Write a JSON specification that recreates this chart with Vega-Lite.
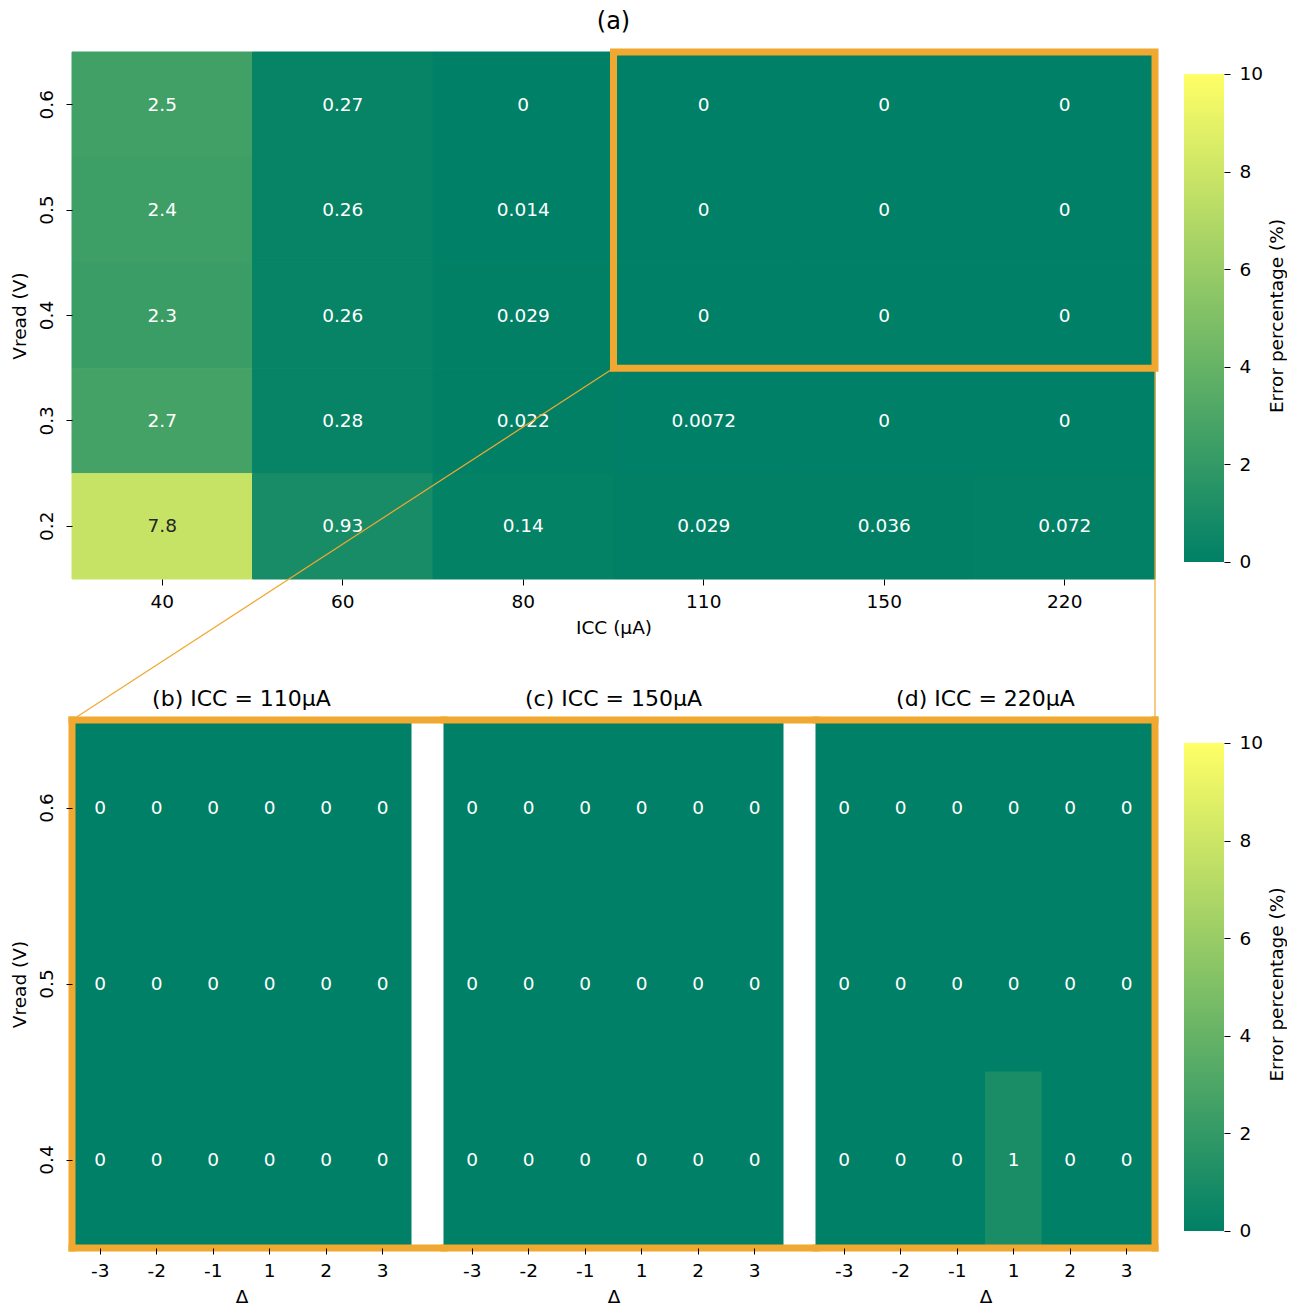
{
  "$schema": "https://vega.github.io/schema/vega-lite/v6.json",
  "padding": {"left": 10, "top": 9, "right": 0, "bottom": 0},
  "datasets": {
    "overview": [
      {"vread": "0.6", "icc": "40", "err": 2.5}, {"vread": "0.6", "icc": "60", "err": 0.27}, {"vread": "0.6", "icc": "80", "err": 0}, {"vread": "0.6", "icc": "110", "err": 0}, {"vread": "0.6", "icc": "150", "err": 0}, {"vread": "0.6", "icc": "220", "err": 0},
      {"vread": "0.5", "icc": "40", "err": 2.4}, {"vread": "0.5", "icc": "60", "err": 0.26}, {"vread": "0.5", "icc": "80", "err": 0.014}, {"vread": "0.5", "icc": "110", "err": 0}, {"vread": "0.5", "icc": "150", "err": 0}, {"vread": "0.5", "icc": "220", "err": 0},
      {"vread": "0.4", "icc": "40", "err": 2.3}, {"vread": "0.4", "icc": "60", "err": 0.26}, {"vread": "0.4", "icc": "80", "err": 0.029}, {"vread": "0.4", "icc": "110", "err": 0}, {"vread": "0.4", "icc": "150", "err": 0}, {"vread": "0.4", "icc": "220", "err": 0},
      {"vread": "0.3", "icc": "40", "err": 2.7}, {"vread": "0.3", "icc": "60", "err": 0.28}, {"vread": "0.3", "icc": "80", "err": 0.022}, {"vread": "0.3", "icc": "110", "err": 0.0072}, {"vread": "0.3", "icc": "150", "err": 0}, {"vread": "0.3", "icc": "220", "err": 0},
      {"vread": "0.2", "icc": "40", "err": 7.8}, {"vread": "0.2", "icc": "60", "err": 0.93}, {"vread": "0.2", "icc": "80", "err": 0.14}, {"vread": "0.2", "icc": "110", "err": 0.029}, {"vread": "0.2", "icc": "150", "err": 0.036}, {"vread": "0.2", "icc": "220", "err": 0.072}
    ],
    "detail": [
      {"icc": "110", "vread": "0.6", "delta": "-3", "err": 0}, {"icc": "110", "vread": "0.6", "delta": "-2", "err": 0}, {"icc": "110", "vread": "0.6", "delta": "-1", "err": 0}, {"icc": "110", "vread": "0.6", "delta": "1", "err": 0}, {"icc": "110", "vread": "0.6", "delta": "2", "err": 0}, {"icc": "110", "vread": "0.6", "delta": "3", "err": 0},
      {"icc": "110", "vread": "0.5", "delta": "-3", "err": 0}, {"icc": "110", "vread": "0.5", "delta": "-2", "err": 0}, {"icc": "110", "vread": "0.5", "delta": "-1", "err": 0}, {"icc": "110", "vread": "0.5", "delta": "1", "err": 0}, {"icc": "110", "vread": "0.5", "delta": "2", "err": 0}, {"icc": "110", "vread": "0.5", "delta": "3", "err": 0},
      {"icc": "110", "vread": "0.4", "delta": "-3", "err": 0}, {"icc": "110", "vread": "0.4", "delta": "-2", "err": 0}, {"icc": "110", "vread": "0.4", "delta": "-1", "err": 0}, {"icc": "110", "vread": "0.4", "delta": "1", "err": 0}, {"icc": "110", "vread": "0.4", "delta": "2", "err": 0}, {"icc": "110", "vread": "0.4", "delta": "3", "err": 0},
      {"icc": "150", "vread": "0.6", "delta": "-3", "err": 0}, {"icc": "150", "vread": "0.6", "delta": "-2", "err": 0}, {"icc": "150", "vread": "0.6", "delta": "-1", "err": 0}, {"icc": "150", "vread": "0.6", "delta": "1", "err": 0}, {"icc": "150", "vread": "0.6", "delta": "2", "err": 0}, {"icc": "150", "vread": "0.6", "delta": "3", "err": 0},
      {"icc": "150", "vread": "0.5", "delta": "-3", "err": 0}, {"icc": "150", "vread": "0.5", "delta": "-2", "err": 0}, {"icc": "150", "vread": "0.5", "delta": "-1", "err": 0}, {"icc": "150", "vread": "0.5", "delta": "1", "err": 0}, {"icc": "150", "vread": "0.5", "delta": "2", "err": 0}, {"icc": "150", "vread": "0.5", "delta": "3", "err": 0},
      {"icc": "150", "vread": "0.4", "delta": "-3", "err": 0}, {"icc": "150", "vread": "0.4", "delta": "-2", "err": 0}, {"icc": "150", "vread": "0.4", "delta": "-1", "err": 0}, {"icc": "150", "vread": "0.4", "delta": "1", "err": 0}, {"icc": "150", "vread": "0.4", "delta": "2", "err": 0}, {"icc": "150", "vread": "0.4", "delta": "3", "err": 0},
      {"icc": "220", "vread": "0.6", "delta": "-3", "err": 0}, {"icc": "220", "vread": "0.6", "delta": "-2", "err": 0}, {"icc": "220", "vread": "0.6", "delta": "-1", "err": 0}, {"icc": "220", "vread": "0.6", "delta": "1", "err": 0}, {"icc": "220", "vread": "0.6", "delta": "2", "err": 0}, {"icc": "220", "vread": "0.6", "delta": "3", "err": 0},
      {"icc": "220", "vread": "0.5", "delta": "-3", "err": 0}, {"icc": "220", "vread": "0.5", "delta": "-2", "err": 0}, {"icc": "220", "vread": "0.5", "delta": "-1", "err": 0}, {"icc": "220", "vread": "0.5", "delta": "1", "err": 0}, {"icc": "220", "vread": "0.5", "delta": "2", "err": 0}, {"icc": "220", "vread": "0.5", "delta": "3", "err": 0},
      {"icc": "220", "vread": "0.4", "delta": "-3", "err": 0}, {"icc": "220", "vread": "0.4", "delta": "-2", "err": 0}, {"icc": "220", "vread": "0.4", "delta": "-1", "err": 0}, {"icc": "220", "vread": "0.4", "delta": "1", "err": 1}, {"icc": "220", "vread": "0.4", "delta": "2", "err": 0}, {"icc": "220", "vread": "0.4", "delta": "3", "err": 0}
    ]
  },
  "columns": 2,
  "align": "each",
  "bounds": "flush",
  "spacing": {"row": 141, "column": 29},
  "concat": [
    {
      "width": 1083,
      "height": 527,
      "title": {"text": "(a)", "frame": "group", "fontSize": 24, "offset": 15},
      "encoding": {
        "x": {"field": "icc", "type": "ordinal", "scale": {"domain": ["40", "60", "80", "110", "150", "220"], "paddingInner": 0, "paddingOuter": 0}, "axis": {"title": "ICC (µA)", "labelAngle": 0}},
        "y": {"field": "vread", "type": "ordinal", "scale": {"domain": ["0.6", "0.5", "0.4", "0.3", "0.2"], "paddingInner": 0, "paddingOuter": 0}, "axis": {"title": "Vread (V)", "labelAngle": 270}}
      },
      "layer": [
        {
          "data": {"name": "overview"},
          "mark": {"type": "rect", "strokeWidth": 1},
          "encoding": {
            "color": {"field": "err", "type": "quantitative", "scale": {"domain": [0, 10], "range": ["#008066", "#ffff66"], "interpolate": "rgb"}, "legend": null},
            "stroke": {"field": "err", "type": "quantitative", "scale": {"domain": [0, 10], "range": ["#008066", "#ffff66"], "interpolate": "rgb"}, "legend": null}
          }
        },
        {
          "data": {"name": "overview"},
          "mark": {"type": "text", "fontSize": 18.5, "font": "DejaVu Sans"},
          "encoding": {
            "text": {"field": "err", "type": "quantitative", "format": ".2~g"},
            "color": {"condition": {"test": "datum.err > 4.5", "value": "#262626"}, "value": "#ffffff"}
          }
        },
        {
          "data": {"values": [{}]},
          "mark": {"type": "rule", "color": "#f0a830", "strokeWidth": 1.2, "y2Offset": 141},
          "encoding": {
            "x": {"datum": "110", "type": "ordinal", "bandPosition": 0},
            "x2": {"datum": "40", "bandPosition": 0},
            "y": {"datum": "0.4", "type": "ordinal", "bandPosition": 1},
            "y2": {"datum": "0.2", "bandPosition": 1}
          }
        },
        {
          "data": {"values": [{}]},
          "mark": {"type": "rule", "color": "#f0a830", "strokeWidth": 1.2, "y2Offset": 141},
          "encoding": {
            "x": {"datum": "220", "type": "ordinal", "bandPosition": 1},
            "y": {"datum": "0.4", "type": "ordinal", "bandPosition": 1},
            "y2": {"datum": "0.2", "bandPosition": 1}
          }
        },
        {
          "data": {"values": [{}]},
          "mark": {"type": "rect", "filled": false, "stroke": "#f0a830", "strokeWidth": 7},
          "encoding": {
            "x": {"datum": "110", "type": "ordinal", "bandPosition": 0},
            "x2": {"datum": "220", "bandPosition": 1},
            "y": {"datum": "0.6", "type": "ordinal", "bandPosition": 0},
            "y2": {"datum": "0.4", "bandPosition": 1}
          }
        }
      ]
    },
    {
      "width": 40,
      "height": 527,
      "data": {"values": [{}]},
      "mark": {"type": "rect", "fill": {"gradient": "linear", "x1": 0, "y1": 1, "x2": 0, "y2": 0, "stops": [{"offset": 0, "color": "#008066"}, {"offset": 1, "color": "#ffff66"}]}},
      "encoding": {
        "y": {"datum": 0, "type": "quantitative", "scale": {"domain": [-0.35, 10.45], "nice": false, "zero": false}, "axis": {"orient": "right", "values": [0, 2, 4, 6, 8, 10], "title": "Error percentage (%)", "titleAngle": 270, "titleBaseline": "top", "labelPadding": 9, "titlePadding": 5, "labelAngle": 0}},
        "y2": {"datum": 10}
      }
    },
    {
      "spacing": 33,
      "bounds": "flush",
      "hconcat": [
        {
          "width": 339,
          "height": 528,
          "title": {"text": "(b) ICC = 110μA", "frame": "group"},
          "encoding": {
            "x": {"field": "delta", "type": "ordinal", "scale": {"domain": ["-3", "-2", "-1", "1", "2", "3"], "paddingInner": 0, "paddingOuter": 0}, "axis": {"title": "Δ", "labelAngle": 0}},
            "y": {"field": "vread", "type": "ordinal", "scale": {"domain": ["0.6", "0.5", "0.4"], "paddingInner": 0, "paddingOuter": 0}, "axis": {"title": "Vread (V)", "labelAngle": 270}}
          },
          "layer": [
            {
              "data": {"name": "detail"},
              "transform": [{"filter": "datum.icc == '110'"}],
              "mark": {"type": "rect", "strokeWidth": 1},
              "encoding": {
                "color": {"field": "err", "type": "quantitative", "scale": {"domain": [0, 10], "range": ["#008066", "#ffff66"], "interpolate": "rgb"}, "legend": null},
                "stroke": {"field": "err", "type": "quantitative", "scale": {"domain": [0, 10], "range": ["#008066", "#ffff66"], "interpolate": "rgb"}, "legend": null}
              }
            },
            {
              "data": {"name": "detail"},
              "transform": [{"filter": "datum.icc == '110'"}],
              "mark": {"type": "text", "fontSize": 18.5, "font": "DejaVu Sans", "color": "#ffffff"},
              "encoding": {"text": {"field": "err", "type": "quantitative", "format": ".2~g"}}
            },
            {
              "data": {"values": [{}]},
              "mark": {"type": "rule", "color": "#f0a830", "strokeWidth": 7, "strokeCap": "square", "x2Offset": 33},
              "encoding": {
                "x": {"datum": "-3", "type": "ordinal", "bandPosition": 0},
                "x2": {"datum": "3", "bandPosition": 1},
                "y": {"datum": "0.6", "type": "ordinal", "bandPosition": 0}
              }
            },
            {
              "data": {"values": [{}]},
              "mark": {"type": "rule", "color": "#f0a830", "strokeWidth": 7, "strokeCap": "square", "x2Offset": 33},
              "encoding": {
                "x": {"datum": "-3", "type": "ordinal", "bandPosition": 0},
                "x2": {"datum": "3", "bandPosition": 1},
                "y": {"datum": "0.4", "type": "ordinal", "bandPosition": 1}
              }
            },
            {
              "data": {"values": [{}]},
              "mark": {"type": "rule", "color": "#f0a830", "strokeWidth": 7, "strokeCap": "square"},
              "encoding": {
                "x": {"datum": "-3", "type": "ordinal", "bandPosition": 0},
                "y": {"datum": "0.6", "type": "ordinal", "bandPosition": 0},
                "y2": {"datum": "0.4", "bandPosition": 1}
              }
            }
          ]
        },
        {
          "width": 339,
          "height": 528,
          "title": {"text": "(c) ICC = 150μA", "frame": "group"},
          "encoding": {
            "x": {"field": "delta", "type": "ordinal", "scale": {"domain": ["-3", "-2", "-1", "1", "2", "3"], "paddingInner": 0, "paddingOuter": 0}, "axis": {"title": "Δ", "labelAngle": 0}},
            "y": {"field": "vread", "type": "ordinal", "scale": {"domain": ["0.6", "0.5", "0.4"], "paddingInner": 0, "paddingOuter": 0}, "axis": null}
          },
          "layer": [
            {
              "data": {"name": "detail"},
              "transform": [{"filter": "datum.icc == '150'"}],
              "mark": {"type": "rect", "strokeWidth": 1},
              "encoding": {
                "color": {"field": "err", "type": "quantitative", "scale": {"domain": [0, 10], "range": ["#008066", "#ffff66"], "interpolate": "rgb"}, "legend": null},
                "stroke": {"field": "err", "type": "quantitative", "scale": {"domain": [0, 10], "range": ["#008066", "#ffff66"], "interpolate": "rgb"}, "legend": null}
              }
            },
            {
              "data": {"name": "detail"},
              "transform": [{"filter": "datum.icc == '150'"}],
              "mark": {"type": "text", "fontSize": 18.5, "font": "DejaVu Sans", "color": "#ffffff"},
              "encoding": {"text": {"field": "err", "type": "quantitative", "format": ".2~g"}}
            },
            {
              "data": {"values": [{}]},
              "mark": {"type": "rule", "color": "#f0a830", "strokeWidth": 7, "strokeCap": "square", "x2Offset": 33},
              "encoding": {
                "x": {"datum": "-3", "type": "ordinal", "bandPosition": 0},
                "x2": {"datum": "3", "bandPosition": 1},
                "y": {"datum": "0.6", "type": "ordinal", "bandPosition": 0}
              }
            },
            {
              "data": {"values": [{}]},
              "mark": {"type": "rule", "color": "#f0a830", "strokeWidth": 7, "strokeCap": "square", "x2Offset": 33},
              "encoding": {
                "x": {"datum": "-3", "type": "ordinal", "bandPosition": 0},
                "x2": {"datum": "3", "bandPosition": 1},
                "y": {"datum": "0.4", "type": "ordinal", "bandPosition": 1}
              }
            }
          ]
        },
        {
          "width": 339,
          "height": 528,
          "title": {"text": "(d) ICC = 220μA", "frame": "group"},
          "encoding": {
            "x": {"field": "delta", "type": "ordinal", "scale": {"domain": ["-3", "-2", "-1", "1", "2", "3"], "paddingInner": 0, "paddingOuter": 0}, "axis": {"title": "Δ", "labelAngle": 0}},
            "y": {"field": "vread", "type": "ordinal", "scale": {"domain": ["0.6", "0.5", "0.4"], "paddingInner": 0, "paddingOuter": 0}, "axis": null}
          },
          "layer": [
            {
              "data": {"name": "detail"},
              "transform": [{"filter": "datum.icc == '220'"}],
              "mark": {"type": "rect", "strokeWidth": 1},
              "encoding": {
                "color": {"field": "err", "type": "quantitative", "scale": {"domain": [0, 10], "range": ["#008066", "#ffff66"], "interpolate": "rgb"}, "legend": null},
                "stroke": {"field": "err", "type": "quantitative", "scale": {"domain": [0, 10], "range": ["#008066", "#ffff66"], "interpolate": "rgb"}, "legend": null}
              }
            },
            {
              "data": {"name": "detail"},
              "transform": [{"filter": "datum.icc == '220'"}],
              "mark": {"type": "text", "fontSize": 18.5, "font": "DejaVu Sans", "color": "#ffffff"},
              "encoding": {"text": {"field": "err", "type": "quantitative", "format": ".2~g"}}
            },
            {
              "data": {"values": [{}]},
              "mark": {"type": "rule", "color": "#f0a830", "strokeWidth": 7, "strokeCap": "square"},
              "encoding": {
                "x": {"datum": "-3", "type": "ordinal", "bandPosition": 0},
                "x2": {"datum": "3", "bandPosition": 1},
                "y": {"datum": "0.6", "type": "ordinal", "bandPosition": 0}
              }
            },
            {
              "data": {"values": [{}]},
              "mark": {"type": "rule", "color": "#f0a830", "strokeWidth": 7, "strokeCap": "square"},
              "encoding": {
                "x": {"datum": "-3", "type": "ordinal", "bandPosition": 0},
                "x2": {"datum": "3", "bandPosition": 1},
                "y": {"datum": "0.4", "type": "ordinal", "bandPosition": 1}
              }
            },
            {
              "data": {"values": [{}]},
              "mark": {"type": "rule", "color": "#f0a830", "strokeWidth": 7, "strokeCap": "square"},
              "encoding": {
                "x": {"datum": "3", "type": "ordinal", "bandPosition": 1},
                "y": {"datum": "0.6", "type": "ordinal", "bandPosition": 0},
                "y2": {"datum": "0.4", "bandPosition": 1}
              }
            }
          ]
        }
      ]
    },
    {
      "width": 40,
      "height": 528,
      "data": {"values": [{}]},
      "mark": {"type": "rect", "fill": {"gradient": "linear", "x1": 0, "y1": 1, "x2": 0, "y2": 0, "stops": [{"offset": 0, "color": "#008066"}, {"offset": 1, "color": "#ffff66"}]}},
      "encoding": {
        "y": {"datum": 0, "type": "quantitative", "scale": {"domain": [-0.35, 10.47], "nice": false, "zero": false}, "axis": {"orient": "right", "values": [0, 2, 4, 6, 8, 10], "title": "Error percentage (%)", "titleAngle": 270, "titleBaseline": "top", "labelPadding": 9, "titlePadding": 5, "labelAngle": 0}},
        "y2": {"datum": 10}
      }
    }
  ],
  "config": {
    "font": "DejaVu Sans",
    "view": {"stroke": null},
    "axis": {"labelFont": "DejaVu Sans", "titleFont": "DejaVu Sans", "labelFontSize": 18.5, "titleFontSize": 18.5, "titleFontWeight": "normal", "labelColor": "#000000", "titleColor": "#000000", "tickColor": "#000000", "tickSize": 6, "tickWidth": 1, "domain": false, "grid": false},
    "axisX": {"labelPadding": 7, "titlePadding": 8},
    "axisY": {"labelPadding": 10, "titlePadding": 8},
    "title": {"font": "DejaVu Sans", "fontSize": 22, "fontWeight": "normal", "color": "#000000", "offset": 4}
  }
}
